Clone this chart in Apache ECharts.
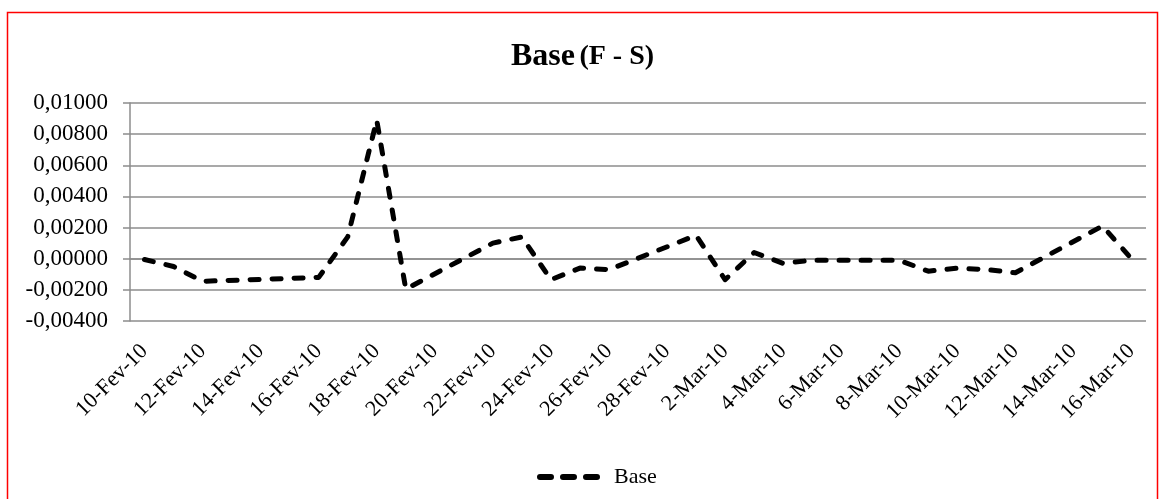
<!DOCTYPE html>
<html>
<head>
<meta charset="utf-8">
<script src="https://cdn.jsdelivr.net/npm/echarts@6/dist/echarts.min.js"></script>
<style>
  html, body { margin: 0; padding: 0; background: #ffffff; }
  #chart { width: 1165px; height: 499px; }
</style>
</head>
<body>
<div id="chart"></div>
<script>
// Daily calendar from 10-Fev-10 to 16-Mar-10 (days without quotes are null)
const categories = [
  '10-Fev-10', '11-Fev-10', '12-Fev-10', '13-Fev-10', '14-Fev-10', '15-Fev-10', '16-Fev-10',
  '17-Fev-10', '18-Fev-10', '19-Fev-10', '20-Fev-10', '21-Fev-10', '22-Fev-10', '23-Fev-10',
  '24-Fev-10', '25-Fev-10', '26-Fev-10', '27-Fev-10', '28-Fev-10', '1-Mar-10', '2-Mar-10',
  '3-Mar-10', '4-Mar-10', '5-Mar-10', '6-Mar-10', '7-Mar-10', '8-Mar-10', '9-Mar-10',
  '10-Mar-10', '11-Mar-10', '12-Mar-10', '13-Mar-10', '14-Mar-10', '15-Mar-10', '16-Mar-10'
];

// Base = F - S
const baseValues = [
  -0.00005, -0.0005, -0.00145, null, null, null, -0.0012,
  0.0014, 0.0089, -0.00195, null, null, 0.0010, 0.0014,
  -0.00135, -0.0006, -0.0007, null, null, 0.0015, -0.00135,
  0.0004, -0.0003, -0.0001, null, null, -0.0001, -0.0008,
  -0.0006, -0.0007, -0.0009, null, null, 0.0021, 0.0000
];

const yMin = -0.004;
const yMax = 0.01;
const yStep = 0.002;

const FONT = "'Liberation Serif', 'Times New Roman', serif";
const GRID_COLOR = '#8c8c8c';

// three short bars used as the legend key for the dashed series
const DASH_ICON = 'path://M3,0h11a3,3 0 0 1 0,6h-11a3,3 0 0 1 0,-6z' +
  'M26,0h11a3,3 0 0 1 0,6h-11a3,3 0 0 1 0,-6z' +
  'M49,0h11a3,3 0 0 1 0,6h-11a3,3 0 0 1 0,-6z';

const chart = echarts.init(document.getElementById('chart'), null, { renderer: 'canvas' });

chart.setOption({
  animation: false,
  backgroundColor: '#ffffff',
  textStyle: { fontFamily: FONT, color: '#000' },
  graphic: [{
    type: 'rect',
    shape: { x: 7.5, y: 12.5, width: 1150, height: 520 },
    style: { fill: 'none', stroke: '#ff0000', lineWidth: 1.5 },
    silent: true,
    z: 100
  }],
  title: {
    text: '{a|Base} {b|(F - S)}',
    left: 'center',
    top: 36,
    textStyle: {
      rich: {
        a: { fontFamily: FONT, fontWeight: 'bold', fontSize: 32, color: '#000' },
        b: { fontFamily: FONT, fontWeight: 'bold', fontSize: 28, color: '#000' }
      }
    }
  },
  legend: {
    data: [{ name: 'Base', icon: DASH_ICON, itemStyle: { color: '#000', borderWidth: 0 } }],
    left: 532,
    top: 461,
    itemWidth: 63,
    itemHeight: 6,
    itemGap: 10,
    textStyle: { fontFamily: FONT, fontSize: 22, color: '#000', padding: [0, 0, 0, 9] }
  },
  grid: { left: 130, right: 19, top: 103, bottom: 178, containLabel: false },
  xAxis: {
    type: 'category',
    data: categories,
    boundaryGap: true,
    axisLine: { show: true, lineStyle: { color: GRID_COLOR, width: 1.5 } },
    axisTick: { show: false },
    axisLabel: {
      interval: 1,
      rotate: 45,
      margin: 27,
      fontFamily: FONT,
      fontSize: 22,
      color: '#000'
    },
    splitLine: { show: false }
  },
  yAxis: {
    type: 'value',
    min: yMin,
    max: yMax,
    interval: yStep,
    axisLine: { show: true, lineStyle: { color: GRID_COLOR, width: 1.5 } },
    axisTick: { show: true, inside: false, length: 7, lineStyle: { color: GRID_COLOR, width: 1.5 } },
    axisLabel: {
      margin: 22,
      fontFamily: FONT,
      fontSize: 23,
      color: '#000',
      formatter: v => v.toFixed(5).replace('.', ',')
    },
    splitLine: { show: true, lineStyle: { color: GRID_COLOR, width: 1.5 } }
  },
  series: [{
    name: 'Base',
    type: 'line',
    data: baseValues,
    connectNulls: true,
    symbol: 'none',
    showSymbol: false,
    lineStyle: {
      color: '#000000',
      width: 5,
      type: [9, 13],
      cap: 'round',
      join: 'round'
    },
    itemStyle: { color: '#000000' }
  }]
});
</script>
</body>
</html>
